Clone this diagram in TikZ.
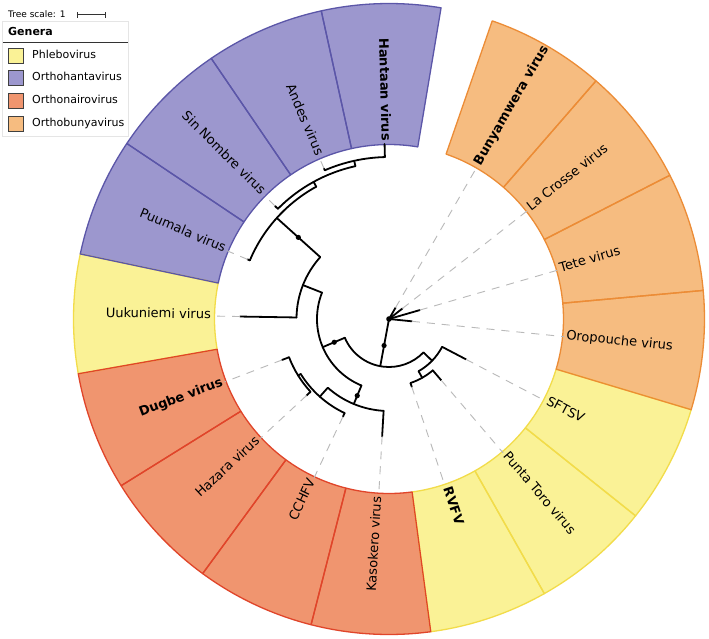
\documentclass[tikz,border=0pt]{standalone}
\usepackage{fontspec}
\setmainfont{DejaVu Sans}
\definecolor{hantF}{HTML}{9C97CE}\definecolor{hantD}{HTML}{5B56A8}
\definecolor{phleF}{HTML}{FAF296}\definecolor{phleD}{HTML}{F2DC4A}
\definecolor{nairF}{HTML}{F0956F}\definecolor{nairD}{HTML}{E0452A}
\definecolor{bunyF}{HTML}{F6BC80}\definecolor{bunyD}{HTML}{EC8C36}
\newcommand\tbranch[4]{\coordinate (#3) at (#1:#4); \draw[br] (#1:#2) -- (#3);}
\newcommand\tarc[3]{\draw[br] (#2:#1) arc[start angle=#2, end angle=#3, radius=#1];}
\newcommand\tleaf[4]{\coordinate (#3) at (#1:#4); \draw[br] (#1:#2) -- (#3); \draw[dashline] (#3) -- (#1:176);}
\begin{document}
\begin{tikzpicture}[x=1pt,y=1pt,
  br/.style={line width=1.8pt, black, line cap=round},
  dashline/.style={gray!55, line width=0.9pt, dash pattern=on 8pt off 7pt},
  lab/.style={inner sep=0pt, font=\fontsize{13}{15}\selectfont},
  blab/.style={inner sep=0pt, font=\fontsize{13}{15}\selectfont\bfseries},
  legtxt/.style={inner sep=0pt, anchor=mid west, font=\fontsize{11}{13}\selectfont},
  legbox/.style={draw=black!75, line width=0.8pt},
  bdot/.style={fill=black}
]
\useasboundingbox (-389,-319) rectangle (320,319);
\fill[white] (-389,-319) rectangle (320,319);

% ---------- coloured ranges ----------
\foreach \i/\g in {0/hant,1/hant,2/hant,3/hant,4/phle,5/nair,6/nair,7/nair,8/nair,9/phle,10/phle,11/phle,12/buny,13/buny,14/buny,15/buny}{
  \pgfmathsetmacro\sa{80.5+21.9*\i}
  \pgfmathsetmacro\sb{\sa+21.9}
  \fill[fill=\g F] (\sa:174.5) arc[start angle=\sa, end angle=\sb, radius=174.5] -- (\sb:315.5) arc[start angle=\sb, end angle=\sa, radius=315.5] -- cycle;
}
\foreach \i/\g in {4/phle,9/phle,10/phle,11/phle,12/buny,13/buny,14/buny,15/buny,0/hant,1/hant,2/hant,3/hant,5/nair,6/nair,7/nair,8/nair}{
  \pgfmathsetmacro\sa{80.5+21.9*\i}
  \pgfmathsetmacro\sb{\sa+21.9}
  \draw[draw=\g D, line width=1.3pt, line join=round] (\sa:174.5) arc[start angle=\sa, end angle=\sb, radius=174.5] -- (\sb:315.5) arc[start angle=\sb, end angle=\sa, radius=315.5] -- cycle;
}

% ---------- tree ----------
\coordinate (root) at (0,0);
% Orthobunyavirus clade near the root
\tarc{2.5}{-5.75}{59.95}
\tleaf{59.95}{2.5}{tBun}{13}
\tleaf{38.05}{2.5}{tLaC}{17}
\tleaf{16.15}{2.5}{tTet}{32}
\tleaf{-5.75}{2.5}{tOro}{23}
\fill[bdot] (root) circle (2.8);
% main clade
\tbranch{259.5}{0}{nA}{48}
\fill[bdot] (259.5:27) circle (2.6);
\tarc{48}{203}{315.9}
% nairo + hanta + uukuniemi
\tbranch{203}{48}{nB}{72}
\fill[bdot] (203:59.5) circle (2.6);
\tarc{72}{158.5}{247.5}
\tbranch{158.5}{72}{nUH}{92.5}
\tarc{92.5}{138}{179.05}
\tleaf{179.05}{92.5}{tUuk}{149}
\tbranch{138}{92.5}{nHR}{151}
\fill[bdot] (138:122) circle (2.6);
\tarc{151}{118.8}{157.15}
\tleaf{157.15}{151}{tPuu}{153.5}
\tbranch{118.8}{151}{nSAH}{156.5}
\tarc{156.5}{102.4}{135.25}
\tleaf{135.25}{156.5}{tSin}{160.5}
\tbranch{102.4}{156.5}{nAH}{162}
\tarc{162}{91.45}{113.35}
\tleaf{113.35}{162}{tAnd}{164}
\tbranch{91.45}{162}{tHan}{175}
\tbranch{247.5}{72}{nNR}{92}
\fill[bdot] (247.5:83) circle (2.6);
\tarc{92}{228.3}{266.65}
\tleaf{266.65}{92}{tKas}{117.5}
\tbranch{228.3}{92}{nDHC}{104}
\tarc{104}{211.9}{244.75}
\tleaf{244.75}{104}{tCCH}{108}
\tbranch{211.9}{104}{nDH}{107}
\tarc{107}{200.95}{222.85}
\tleaf{200.95}{107}{tDug}{114.5}
\tleaf{222.85}{107}{tHaz}{112.5}
% phlebo
\tbranch{315.9}{48}{nC}{60}
\tarc{60}{299.5}{332.35}
\tleaf{332.35}{60}{tSFT}{87}
\tbranch{299.5}{60}{nPR}{67.5}
\tarc{67.5}{288.55}{310.45}
\tleaf{310.45}{67.5}{tPun}{80.5}
\tleaf{288.55}{67.5}{tRVF}{71.5}

% ---------- leaf labels ----------
\node[blab, anchor=mid east, rotate=-88.55] (l0) at (91.45:178) {Hantaan virus};
\node[lab, anchor=mid east, rotate=-66.65] (l1) at (113.35:178) {Andes virus};
\node[lab, anchor=mid east, rotate=-44.75] (l2) at (135.25:178) {Sin Nombre virus};
\node[lab, anchor=mid east, rotate=-22.85] (l3) at (157.15:178) {Puumala virus};
\node[lab, anchor=mid east, rotate=-0.95] (l4) at (179.05:178) {Uukuniemi virus};
\node[blab, anchor=mid east, rotate=20.95] (l5) at (200.95:178) {Dugbe virus};
\node[lab, anchor=mid east, rotate=42.85] (l6) at (222.85:178) {Hazara virus};
\node[lab, anchor=mid east, rotate=64.75] (l7) at (244.75:178) {CCHFV};
\node[lab, anchor=mid east, rotate=86.65] (l8) at (266.65:178) {Kasokero virus};
\node[blab, anchor=mid west, rotate=288.55] (l9) at (288.55:178) {RVFV};
\node[lab, anchor=mid west, rotate=310.45] (l10) at (310.45:178) {Punta Toro virus};
\node[lab, anchor=mid west, rotate=332.35] (l11) at (332.35:178) {SFTSV};
\node[lab, anchor=mid west, rotate=354.25] (l12) at (354.25:178) {Oropouche virus};
\node[lab, anchor=mid west, rotate=16.15] (l13) at (16.15:178) {Tete virus};
\node[lab, anchor=mid west, rotate=38.05] (l14) at (38.05:178) {La Crosse virus};
\node[blab, anchor=mid west, rotate=59.95] (l15) at (59.95:178) {Bunyamwera virus};

% ---------- legend ----------
\node[inner sep=0pt, anchor=mid west, font=\fontsize{9}{11}\selectfont] (ts) at (-381,304.3) {Tree scale: 1};
\coordinate (sbA) at (-312,304.3); \coordinate (sbB) at (-284,304.3);
\draw[black!80, line width=0.9pt] (sbA) -- (sbB);
\draw[black!80, line width=0.9pt] ([yshift=-3pt]sbA) -- ([yshift=3pt]sbA);
\draw[black!80, line width=0.9pt] ([yshift=-3pt]sbB) -- ([yshift=3pt]sbB);
\draw[gray!20, fill=white, line width=0.6pt] (-387,298) rectangle (-261,183);
\node[inner sep=0pt, anchor=mid west, font=\fontsize{11}{13}\selectfont\bfseries] (gen) at (-381,286) {Genera};
\draw[black!80, line width=1pt] (-386,276.5) -- (-261,276.5);
\node[legbox, fill=phleF, minimum size=15pt, inner sep=0pt] (k1) at (-373.5,263.5) {};
\node[legbox, fill=hantF, minimum size=15pt, inner sep=0pt] (k2) at (-373.5,240.8) {};
\node[legbox, fill=nairF, minimum size=15pt, inner sep=0pt] (k3) at (-373.5,218.1) {};
\node[legbox, fill=bunyF, minimum size=15pt, inner sep=0pt] (k4) at (-373.5,195.4) {};
\node[legtxt] (g1) at (-357,263.5) {Phlebovirus};
\node[legtxt] (g2) at (-357,240.8) {Orthohantavirus};
\node[legtxt] (g3) at (-357,218.1) {Orthonairovirus};
\node[legtxt] (g4) at (-357,195.4) {Orthobunyavirus};
\end{tikzpicture}
\end{document}
